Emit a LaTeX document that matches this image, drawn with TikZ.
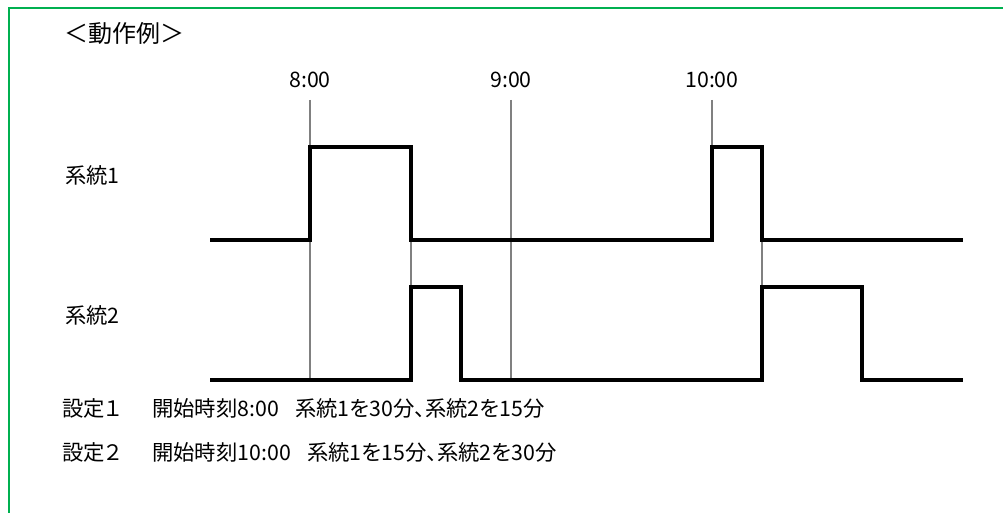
\documentclass[tikz,border=0pt]{standalone}
\usepackage{fontspec}
\setmainfont{Noto Sans CJK JP}[RawFeature=+palt]
\usetikzlibrary{positioning}
\definecolor{framegreen}{RGB}{0,176,80}

\begin{document}
\begin{tikzpicture}[x=0.75pt, y=-0.75pt, font=\fontsize{16}{20}\selectfont,
    signal/.style={line width=3pt, black, line join=miter},
    guide/.style={line width=1.5pt, gray},
    lbl/.style={anchor=west, inner sep=0pt}]
    \useasboundingbox (0,0) rectangle (1003,513);

    % Frame
    \draw[framegreen, line width=2pt] (9,513) -- (9,8) -- (1003,8);

    % Title
    \node[lbl, font=\fontsize{18}{22}\selectfont] (title) at (64,33) {＜動作例＞};

    % Time marks
    \foreach \x/\t/\n in {310/8:00/t8, 511/9:00/t9, 712/10:00/t10} {
        \node (\n) at (\x,80) {\t};
    }
    \draw[guide] (310,100) -- (310,380);
    \draw[guide] (511,100) -- (511,380);
    \draw[guide] (712,100) -- (712,147);
    \foreach \x in {411, 762} {
        \draw[guide] (\x,240) -- (\x,287);
    }

    % System 1
    \node[lbl] (sys1) at (65,175) {系統1};
    \draw[signal] (210,240) -- (310,240) -- (310,147) -- (411,147) -- (411,240)
        -- (712,240) -- (712,147) -- (762,147) -- (762,240) -- (963,240);

    % System 2
    \node[lbl] (sys2) at (65,315) {系統2};
    \draw[signal] (210,380) -- (411,380) -- (411,287) -- (461,287) -- (461,380)
        -- (762,380) -- (762,287) -- (862,287) -- (862,380) -- (963,380);

    % Settings
    \node[lbl] (set1) at (62,408) {設定１};
    \node[lbl] (start1) at (152,408) {開始時刻8:00};
    \node[lbl] (run1) at (295,408) {系統1を30分、系統2を15分};
    \node[lbl] (set2) at (62,452) {設定２};
    \node[lbl] (start2) at (152,452) {開始時刻10:00};
    \node[lbl] (run2) at (307,452) {系統1を15分、系統2を30分};
\end{tikzpicture}
\end{document}
